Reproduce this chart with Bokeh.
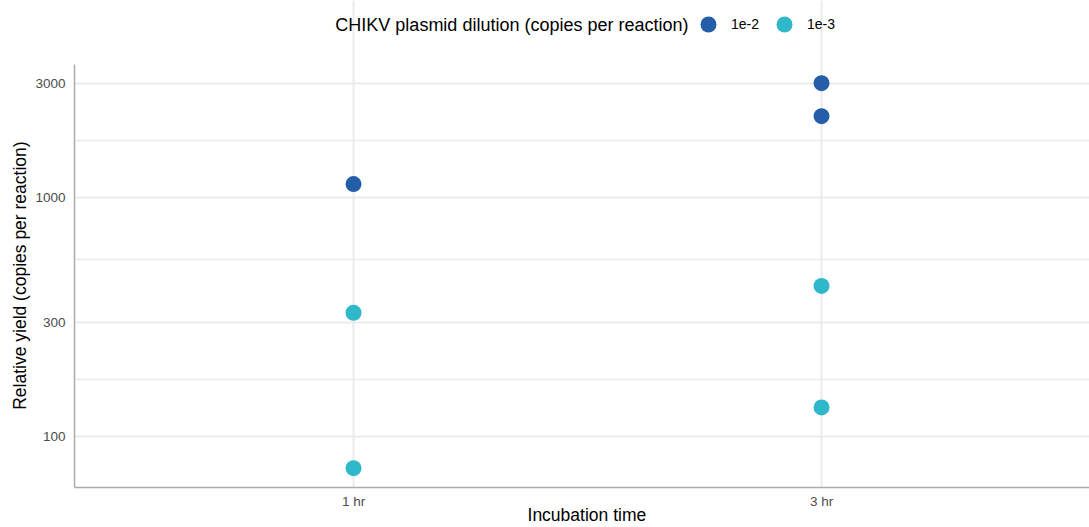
from bokeh.plotting import figure
from bokeh.models import (Range1d, FixedTicker, PrintfTickFormatter, Legend,
                          LegendItem, Label, ColumnDataSource)
from bokeh.embed import file_html
from bokeh.resources import INLINE

# ---- data ----
categories = ["1 hr", "3 hr"]
dilutions = ["1e-2", "1e-3"]
colors = ["#245EA8", "#2FB7CA"]

time_1e2 = ["1 hr", "3 hr", "3 hr"]
yield_1e2 = [1137, 3010, 2190]

time_1e3 = ["1 hr", "1 hr", "3 hr", "3 hr"]
yield_1e3 = [329, 73.5, 426, 132]

y_ticks = [100, 300, 1000, 3000]
y_minor = [173.2, 547.7, 1732]

FONT = "Liberation Sans"

# panel limits (ggplot expanded range) and extra room above for the legend
Y_LO, Y_HI, Y_TOP = 61.0, 3603, 6678
B = 487  # expected frame bottom (px)

p = figure(width=1089, height=527, y_axis_type="log",
           x_range=Range1d(0.4038, 2.5726), y_range=Range1d(Y_LO, Y_TOP),
           output_backend="svg", toolbar_location=None,
           min_border_left=74, min_border_right=0, min_border_top=0,
           min_border_bottom=40)
p.outline_line_color = None
p.background_fill_color = "white"

pos = {c: i + 1 for i, c in enumerate(categories)}

src1 = ColumnDataSource(dict(x=[pos[t] for t in time_1e2], y=yield_1e2))
src2 = ColumnDataSource(dict(x=[pos[t] for t in time_1e3], y=yield_1e3))
r1 = p.scatter("x", "y", source=src1, size=16, color=colors[0], line_color=None)
r2 = p.scatter("x", "y", source=src2, size=16, color=colors[1], line_color=None)

# axes
p.xaxis.ticker = FixedTicker(ticks=[pos[c] for c in categories])
p.xaxis.major_label_overrides = {pos[c]: c for c in categories}
p.yaxis.ticker = FixedTicker(ticks=y_ticks, minor_ticks=y_minor)
p.yaxis.formatter = PrintfTickFormatter(format="%d")
p.yaxis.bounds = (Y_LO, Y_HI)

for ax in (p.xaxis[0], p.yaxis[0]):
    ax.axis_line_color = "#ABABAB"
    ax.axis_line_width = 1.5
    ax.major_tick_line_color = None
    ax.minor_tick_line_color = None
    ax.major_tick_out = 0
    ax.major_tick_in = 0
    ax.minor_tick_out = 0
    ax.minor_tick_in = 0
    ax.major_label_text_font = FONT
    ax.major_label_text_font_size = "13.5px"
    ax.major_label_text_color = "#4D4D4D"
    ax.axis_label_text_font = FONT
    ax.axis_label_text_font_size = "17.5px"
    ax.axis_label_text_font_style = "normal"
    ax.axis_label_text_color = "black"

p.xaxis.axis_label = "\u00a0\u00a0Incubation time"
p.xaxis.major_label_standoff = 6
p.xaxis.axis_label_standoff = -7
# trailing no-break spaces centre the visible title on the panel (not the whole frame)
p.yaxis.axis_label = "Relative yield (copies per reaction)" + "\u00a0" * 13
p.yaxis.major_label_standoff = 9
p.yaxis.axis_label_standoff = 2

# grid
p.xgrid.grid_line_color = "#EBEBEB"
p.xgrid.grid_line_width = 2
p.xgrid.bounds = (Y_LO, Y_HI)
p.ygrid.grid_line_color = "#EBEBEB"
p.ygrid.grid_line_width = 2
p.ygrid.minor_grid_line_color = "#EBEBEB"
p.ygrid.minor_grid_line_width = 1.5

# legend title
p.add_layout(Label(x=614, y=B - 24, x_units="screen", y_units="screen",
                   text="CHIKV plasmid dilution (copies per reaction)",
                   text_align="right", text_baseline="middle",
                   text_font=FONT, text_font_size="18px", text_color="black"))

# legend items
legend = Legend(items=[LegendItem(label=dilutions[0], renderers=[r1]),
                       LegendItem(label=dilutions[1], renderers=[r2])],
                orientation="horizontal", location=(614, B - 44),
                glyph_width=40, glyph_height=40, label_standoff=3, spacing=5,
                padding=0, margin=0, border_line_color=None,
                background_fill_alpha=0,
                label_text_font=FONT, label_text_font_size="14px",
                label_text_color="black")
p.add_layout(legend, "center")

open("out.html", "w").write(file_html(p, INLINE))
